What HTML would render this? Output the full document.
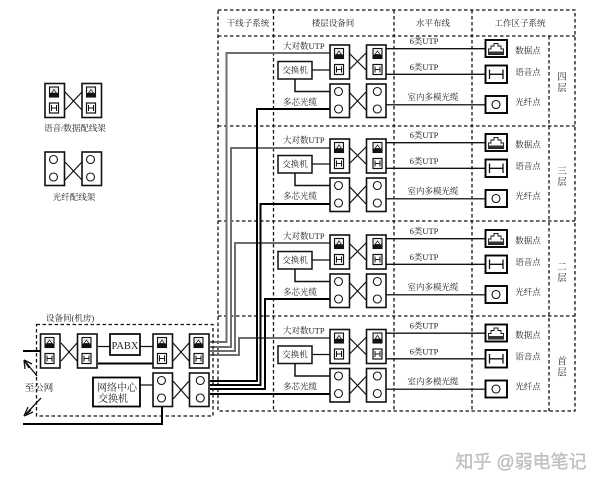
<!DOCTYPE html>
<html><head><meta charset="utf-8"><style>
html,body{margin:0;padding:0;background:#fff;width:600px;height:487px;overflow:hidden}
svg{display:block;filter:blur(.3px)}
text{font-family:"Liberation Serif","Noto Serif CJK SC",serif;fill:#222;font-size:8.5px;text-anchor:middle}
.l{text-anchor:start}
.d{fill:none;stroke:#111;stroke-width:1.3;stroke-dasharray:3.5 2.5}
.p{fill:#fff;stroke:#111;stroke-width:1.6}
.g{fill:none;stroke:#6e6e6e;stroke-width:2}
.b{fill:none;stroke:#000;stroke-width:2}
.t{fill:none;stroke:#111;stroke-width:1.3}
.x{fill:none;stroke:#111;stroke-width:1.2}
</style></head><body>
<svg width="600" height="487" viewBox="0 0 600 487" xmlns="http://www.w3.org/2000/svg">
<defs>
<g id="di"><rect x="0" y="0" width="9" height="10" fill="#eee" stroke="#111" stroke-width="1.1"/><rect x="0" y="6" width="9" height="4" fill="#111"/><path d="M2 6L4.500 2.500L7 6Z" fill="#fff" stroke="#111" stroke-width=".7"/></g>
<g id="vi"><rect x="0" y="0" width="9" height="10" fill="#fff" stroke="#111" stroke-width="1.2"/><path d="M2 2V8M7 2V8M2 5H7" fill="none" stroke="#111" stroke-width="1"/></g>
<g id="dpL"><rect class="p" width="19.500" height="34"/><use href="#di" x="4.500" y="3.500"/><use href="#vi" x="4.500" y="19.500"/></g>
<g id="dpR"><rect class="p" width="19.500" height="34"/><use href="#di" x="6.500" y="3.500"/><use href="#vi" x="6.500" y="19.500"/></g>
<g id="fL"><rect class="p" width="19.500" height="33.500"/><circle cx="8.500" cy="7.500" r="4" fill="#fff" stroke="#111" stroke-width="1.1"/><circle cx="8.500" cy="25" r="4" fill="#fff" stroke="#111" stroke-width="1.1"/></g>
<g id="fR"><rect class="p" width="19.500" height="33.500"/><circle cx="10.800" cy="7.500" r="4" fill="#fff" stroke="#111" stroke-width="1.1"/><circle cx="10.800" cy="25" r="4" fill="#fff" stroke="#111" stroke-width="1.1"/></g>
<g id="outlets">
<rect x="485.500" y="40" width="21.500" height="17" fill="#fff" stroke="#000" stroke-width="1.9"/>
<path d="M488.500 54.500V49H491V46H494V43.500H498V46H501V49H503.500V54.500Z" fill="#fff" stroke="#111" stroke-width=".9"/><rect x="488.500" y="51.500" width="15" height="3" fill="#333"/>
<rect x="485.500" y="65.500" width="21.500" height="17.500" fill="#fff" stroke="#000" stroke-width="1.9"/>
<path d="M489.500 69.500V79M503 69.500V79M489.500 74.300H503" class="t"/>
<rect x="485.500" y="96" width="21.500" height="17" fill="#fff" stroke="#000" stroke-width="1.9"/>
<circle cx="496" cy="104.500" r="4" fill="#fff" stroke="#111" stroke-width="1.1"/>
</g>
<g id="floor">
<path class="x" d="M349 53L366 70M349 70L366 53M349 92L366 110M349 110L366 92"/>
<path class="t" d="M312 70H330"/>
<path d="M295 79V91.500H330" fill="none" stroke="#111" stroke-width="1.5"/>
<path d="M386 48.700H485.500" fill="none" stroke="#111" stroke-width="1.4"/>
<path d="M386 74.300H485.500" fill="none" stroke="#111" stroke-width="1.4"/>
<path d="M386 104.800H485.500" fill="none" stroke="#333" stroke-width="1.5"/>
<use href="#dpL" x="330" y="45"/><use href="#dpR" x="366.500" y="45"/>
<use href="#fL" x="330" y="84"/><use href="#fR" x="366.500" y="84"/>
<rect x="278" y="61.500" width="34" height="17.500" fill="#fff" stroke="#111" stroke-width="1.5"/>
<use href="#outlets"/>
</g>
</defs>

<path class="d" d="M218 10H575V411H218ZM218 36H575M218 126H575M218 221H575M218 316H575M273.500 10V411M394 10V411M472 10V411M549 36V411"/>

<text x="248" y="26">干线子系统</text><text x="333" y="26">楼层设备间</text><text x="433" y="26">水平布线</text><text x="520" y="26">工作区子系统</text>

<!-- backbone -->
<path class="g" d="M330 53H226.500V342H210M330 148H231V347H210M330 243H235V351H210M330 338H239V355H210"/>
<path class="b" d="M330 109H257V381H210M330 204H260.500V385H210M330 299H265V389H210M330 394H210"/>

<use href="#floor"/><use href="#floor" y="94"/><use href="#floor" y="190"/><use href="#floor" y="284.500"/>

<!-- floor 4 -->
<g>
<text class="l" x="283" y="49">大对数UTP</text><text x="295" y="73">交换机</text><text class="l" x="283" y="105">多芯光缆</text>
<text x="424" y="44">6类UTP</text><text x="424" y="70">6类UTP</text><text x="433" y="100">室内多模光缆</text>
<text x="528" y="53.500">数据点</text><text x="528" y="75">语音点</text><text x="528" y="105">光纤点</text>
<text x="562" y="80" style="font-size:9.500px">四</text><text x="562" y="91" style="font-size:9.500px">层</text>
</g>
<g transform="translate(0,94)">
<text class="l" x="283" y="49">大对数UTP</text><text x="295" y="73">交换机</text><text class="l" x="283" y="105">多芯光缆</text>
<text x="424" y="44">6类UTP</text><text x="424" y="70">6类UTP</text><text x="433" y="100">室内多模光缆</text>
<text x="528" y="53.500">数据点</text><text x="528" y="75">语音点</text><text x="528" y="105">光纤点</text>
<text x="562" y="80" style="font-size:9.500px">三</text><text x="562" y="91" style="font-size:9.500px">层</text>
</g>
<g transform="translate(0,190)">
<text class="l" x="283" y="49">大对数UTP</text><text x="295" y="73">交换机</text><text class="l" x="283" y="105">多芯光缆</text>
<text x="424" y="44">6类UTP</text><text x="424" y="70">6类UTP</text><text x="433" y="100">室内多模光缆</text>
<text x="528" y="53.500">数据点</text><text x="528" y="75">语音点</text><text x="528" y="105">光纤点</text>
<text x="562" y="80" style="font-size:9.500px">二</text><text x="562" y="91" style="font-size:9.500px">层</text>
</g>
<g transform="translate(0,284.500)">
<text class="l" x="283" y="49">大对数UTP</text><text x="295" y="73">交换机</text><text class="l" x="283" y="105">多芯光缆</text>
<text x="424" y="44">6类UTP</text><text x="424" y="70">6类UTP</text><text x="433" y="100">室内多模光缆</text>
<text x="528" y="53.500">数据点</text><text x="528" y="75">语音点</text><text x="528" y="105">光纤点</text>
<text x="562" y="80" style="font-size:9.500px">首</text><text x="562" y="91" style="font-size:9.500px">层</text>
</g>

<!-- legend -->
<path class="x" d="M65 92L82 110M65 110L82 92M65 162L82 180M65 180L82 162"/>
<use href="#dpL" x="45" y="83.500"/><use href="#dpL" x="82" y="83.500"/>
<use href="#fL" x="45" y="152"/><use href="#fL" x="82" y="152"/>
<text x="75" y="131">语音/数据配线架</text>
<text x="74" y="200">光纤配线架</text>

<!-- equipment room -->
<rect class="d" x="36.500" y="324.500" width="176.500" height="91.500"/>
<text class="l" x="46" y="321">设备间(机房)</text>
<path class="x" d="M61 343L77 361M61 361L77 343M173 343L189 361M173 361L189 343M173 381L189 399M173 399L189 381"/>
<path class="b" d="M23 351H40"/>
<path class="t" d="M98 346.500H110M140 346.500H153M140 385H153"/>
<path class="b" d="M98 363.500H153"/>
<path class="b" d="M23 424H162V407"/>
<use href="#dpL" x="40.500" y="334"/><use href="#dpL" x="77.500" y="334"/><use href="#dpL" x="153" y="334"/><use href="#dpL" x="189.500" y="334"/>
<use href="#fL" x="153" y="373"/><use href="#fR" x="189.500" y="373"/>
<rect x="110" y="334" width="30" height="21" fill="#fff" stroke="#000" stroke-width="1.7"/>
<text x="125" y="349" style="font-size:10.500px">PABX</text>
<rect x="93" y="377.500" width="47" height="29" fill="#fff" stroke="#000" stroke-width="1.8"/>
<text x="117" y="391" style="font-size:10px">网络中心</text><text x="113" y="402" style="font-size:10px">交换机</text>
<path class="t" d="M37 376L24 360M24 360L25 369M24 360L32 364M24 360L29 368"/>
<path class="t" d="M41 398L24 416M24 416L33 412M24 416L28 407M24 416L31 410"/>
<text x="39" y="391" style="font-size:9.500px">至公网</text>

<!-- watermark -->
<text x="521" y="468" style="font-size:18px;font-family:'Liberation Sans','Noto Sans CJK SC',sans-serif;fill:#c4c4c4;stroke:#aaa;stroke-width:.25">知乎 @弱电笔记</text>
</svg>
</body></html>
